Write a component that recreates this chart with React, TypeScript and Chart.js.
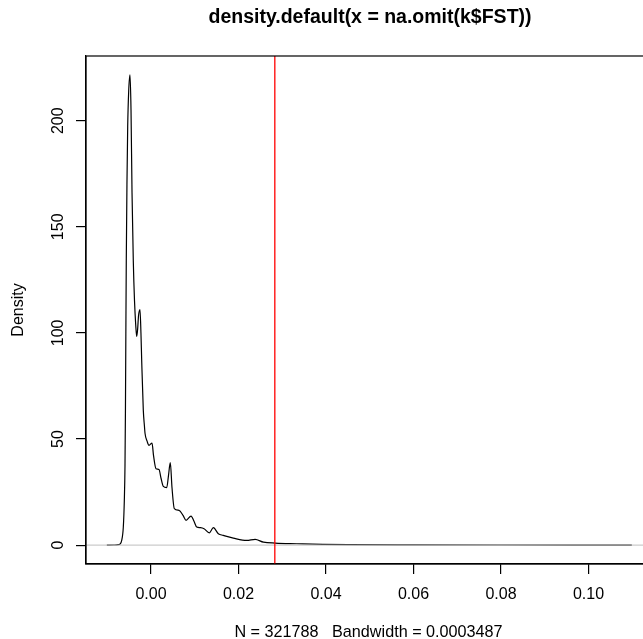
import React, { useEffect, useRef } from "react";
import { Chart, registerables } from "chart.js";

Chart.register(...registerables);

// ---- data ----
const densX: number[] = [
  -0.0101, -0.0085, -0.0075, -0.0071, -0.0067, -0.00633, -0.0061, -0.00595, -0.00585, -0.00575,
  -0.00565, -0.0055, -0.00533, -0.0051, -0.0048, -0.00457, -0.00434, -0.00405, -0.00377, -0.0035,
  -0.00327, -0.00305, -0.00286, -0.00252, -0.0023, -0.00213, -0.00176, -0.0015, -0.00137, -0.0009,
  -0.00046, 0.00023, 0.00057, 0.00114, 0.00183, 0.00229, 0.00281, 0.00359, 0.004, 0.00441,
  0.0048, 0.00533, 0.0064, 0.00732, 0.008, 0.00915, 0.00983, 0.01045, 0.0113, 0.01212,
  0.01333, 0.01425, 0.01539, 0.0165, 0.01731, 0.01882, 0.02188, 0.0238, 0.0257, 0.0284,
  0.0333, 0.0393, 0.0455, 0.06, 0.08, 0.1, 0.1099,
];
const densY: number[] = [
  0, 0.05, 0.2, 0.5, 2.2, 8.5, 21, 37, 62, 100,
  135, 170, 197, 214, 221.6, 205, 166, 134, 115, 104,
  98.4, 102, 108, 111, 100, 87, 63.5, 56, 52.7, 49,
  47, 48.1, 42.3, 36, 35.6, 31.5, 27.7, 27.1, 32.9, 38.9,
  27, 17.2, 16.4, 14, 11.7, 13.7, 11.2, 8.5, 8.2, 7.7,
  5.8, 8.2, 5.4, 4.6, 4.1, 3.3, 2.2, 2.7, 1.4, 0.95,
  0.65, 0.33, 0.2, 0.1, 0.05, 0.02, 0,
];
const markerX = 0.0283;
const xTicks: number[] = [0, 0.02, 0.04, 0.06, 0.08, 0.1];
const xTickLabels: string[] = ["0.00", "0.02", "0.04", "0.06", "0.08", "0.10"];
const yTicks: number[] = [0, 50, 100, 150, 200];
const yTickLabels: string[] = ["0", "50", "100", "150", "200"];
const X_MIN = -0.01486;
const X_MAX = 0.1152;
const Y_MIN = -8.9;
const Y_MAX = 230.5;
const titleText = "density.default(x = na.omit(k$FST))";
const xLabelText = "N = 321788   Bandwidth = 0.0003487";
const yLabelText = "Density";

const FONT = "'Liberation Sans', Arial, Helvetica, sans-serif";

const rStylePlugin = {
  id: "rStyle",
  afterDraw(chart: any) {
    const { ctx, chartArea, scales } = chart;
    const xs = scales.x;
    const ys = scales.y;
    ctx.save();
    // box
    ctx.strokeStyle = "#000";
    ctx.lineWidth = 1.2;
    ctx.strokeRect(chartArea.left, chartArea.top, chartArea.right - chartArea.left, chartArea.bottom - chartArea.top);
    ctx.fillStyle = "#000";
    // title
    const cx = (chartArea.left + chartArea.right) / 2;
    ctx.font = `bold 19.5px ${FONT}`;
    ctx.textAlign = "center";
    ctx.textBaseline = "alphabetic";
    ctx.fillText(titleText, cx - 0.5, 23);
    // x tick labels
    ctx.font = `16px ${FONT}`;
    xs.ticks.forEach((t: any, i: number) => {
      const px = xs.getPixelForValue(t.value);
      ctx.fillText(xTickLabels[i], px, chartArea.bottom + 34.5);
    });
    // x label
    ctx.font = `16.2px ${FONT}`;
    ctx.fillText(xLabelText, cx - 2, 637);
    ctx.font = `16px ${FONT}`;
    // y tick labels (rotated)
    ys.ticks.forEach((t: any, i: number) => {
      const py = ys.getPixelForValue(t.value);
      ctx.save();
      ctx.translate(62.5, py);
      ctx.rotate(-Math.PI / 2);
      ctx.fillText(yTickLabels[i], 0, 0);
      ctx.restore();
    });
    // y label
    ctx.save();
    ctx.translate(23, (chartArea.top + chartArea.bottom) / 2);
    ctx.rotate(-Math.PI / 2);
    ctx.fillText(yLabelText, 0, 0);
    ctx.restore();
    ctx.restore();
  },
};

export default function App() {
  const ref = useRef<HTMLCanvasElement | null>(null);
  useEffect(() => {
    if (!ref.current) return;
    const curve = densX.map((x, i) => ({ x, y: densY[i] }));
    const chart = new Chart(ref.current, {
      type: "scatter",
      data: {
        datasets: [
          {
            data: curve,
            showLine: true,
            borderColor: "#000",
            borderWidth: 1.2,
            pointRadius: 0,
            cubicInterpolationMode: "monotone",
            order: 3,
          } as any,
          {
            data: [
              { x: X_MIN, y: 0 },
              { x: X_MAX, y: 0 },
            ],
            showLine: true,
            borderColor: "rgba(190,190,190,0.8)",
            borderWidth: 1.3,
            pointRadius: 0,
            order: 2,
          } as any,
          {
            data: [
              { x: markerX, y: Y_MIN },
              { x: markerX, y: Y_MAX },
            ],
            showLine: true,
            borderColor: "#ff0000",
            borderWidth: 1.3,
            pointRadius: 0,
            order: 1,
          } as any,
        ],
      },
      options: {
        animation: false,
        responsive: false,
        devicePixelRatio: 1,
        layout: { padding: { left: 0, top: 56, right: 0, bottom: 0 } },
        plugins: {
          legend: { display: false },
          tooltip: { enabled: false },
          title: { display: false },
        },
        scales: {
          x: {
            type: "linear",
            min: X_MIN,
            max: X_MAX,
            afterBuildTicks: (s: any) => {
              s.ticks = xTicks.map((v) => ({ value: v }));
            },
            afterFit: (s: any) => {
              s.height = 75;
            },
            ticks: { display: false },
            grid: {
              drawOnChartArea: false,
              drawTicks: true,
              tickLength: 10,
              color: "#000",
              lineWidth: 1.2,
            },
            border: { display: true, color: "#000", width: 1.2 },
          },
          y: {
            type: "linear",
            min: Y_MIN,
            max: Y_MAX,
            afterBuildTicks: (s: any) => {
              s.ticks = yTicks.map((v) => ({ value: v }));
            },
            afterFit: (s: any) => {
              s.width = 86;
            },
            ticks: { display: false },
            grid: {
              drawOnChartArea: false,
              drawTicks: true,
              tickLength: 10,
              color: "#000",
              lineWidth: 1.2,
            },
            border: { display: true, color: "#000", width: 1.2 },
          },
        },
      },
      plugins: [rStylePlugin],
    });
    return () => chart.destroy();
  }, []);
  return (
    <div
      style={{
        position: "fixed",
        left: 0,
        top: 0,
        width: 643,
        height: 639,
        overflow: "hidden",
        background: "#fff",
      }}
    >
      <canvas ref={ref} width={655} height={639} style={{ width: 655, height: 639, display: "block" }} />
    </div>
  );
}
